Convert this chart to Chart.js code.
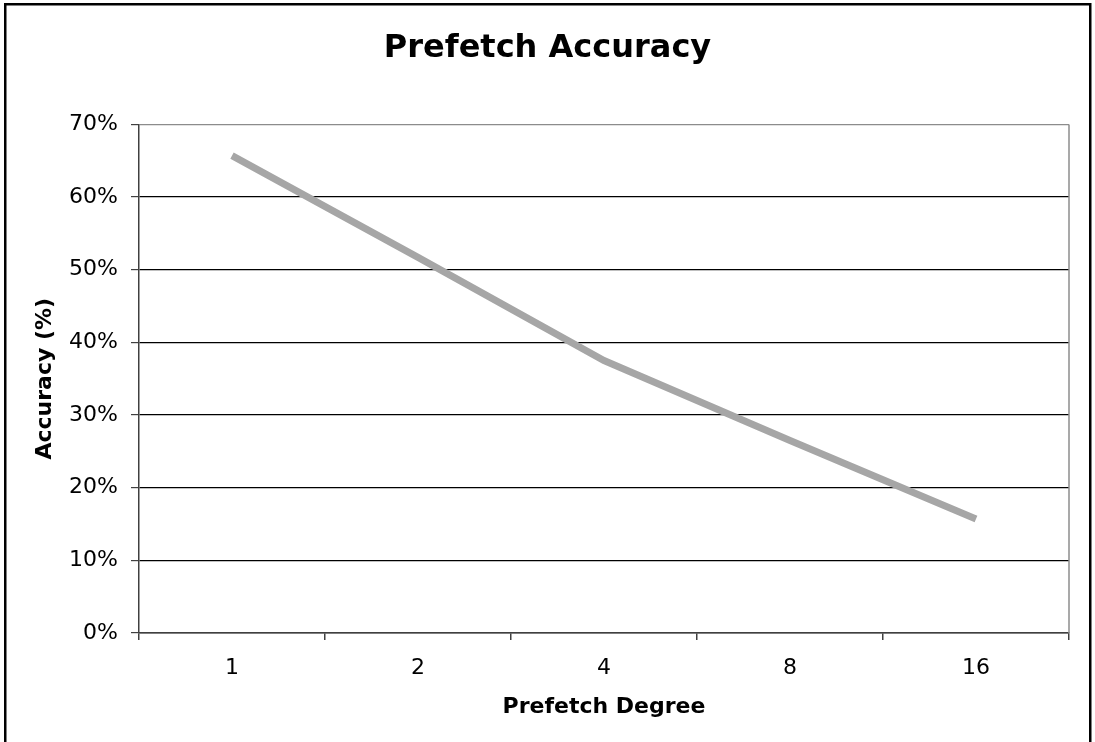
<!DOCTYPE html>
<html>
<head>
<meta charset="utf-8">
<script src="https://cdn.jsdelivr.net/npm/chart.js@4/dist/chart.umd.min.js"></script>
<style>
  html, body { margin: 0; padding: 0; background: #fff; overflow: hidden; }
  #wrap { width: 1095px; height: 742px; }
</style>
</head>
<body>
<div id="wrap"><canvas id="accChart" width="1095" height="742"></canvas></div>
<script>
const degrees = ['1', '2', '4', '8', '16'];
const accuracy = [65.7, 51.7, 37.5, 26.5, 15.7];
const yTicks = [0, 10, 20, 30, 40, 50, 60, 70];

const FONT = 'DejaVu Sans, Verdana, sans-serif';

// outer frame + plot area right edge
const framePlugin = {
  id: 'frame',
  afterDraw(chart) {
    const ctx = chart.ctx;
    const a = chart.chartArea;
    ctx.save();
    ctx.strokeStyle = '#8c8c8c';
    ctx.lineWidth = 1.5;
    ctx.beginPath();
    ctx.moveTo(a.right, a.top);
    ctx.lineTo(a.right, a.bottom);
    ctx.stroke();
    ctx.strokeStyle = '#000';
    ctx.lineWidth = 2.5;
    ctx.strokeRect(5.25, 4.25, 1085, 800);
    ctx.restore();
  }
};

new Chart(document.getElementById('accChart'), {
  type: 'line',
  data: {
    labels: degrees,
    datasets: [{
      label: 'Accuracy',
      data: accuracy,
      borderColor: '#a6a6a6',
      borderWidth: 7,
      borderCapStyle: 'butt',
      pointRadius: 0,
      tension: 0,
      fill: false
    }]
  },
  options: {
    responsive: false,
    animation: false,
    layout: { padding: 0 },
    plugins: {
      legend: { display: false },
      tooltip: { enabled: false },
      title: {
        display: true,
        text: 'Prefetch Accuracy',
        color: '#000',
        font: { family: FONT, size: 32, weight: 'bold' },
        padding: { top: 29, bottom: 57 }
      }
    },
    scales: {
      x: {
        offset: true,
        grid: {
          offset: true,
          drawOnChartArea: false,
          tickLength: 7,
          tickColor: '#404040',
          lineWidth: 1.5
        },
        border: { color: '#404040', width: 1.5 },
        ticks: {
          color: '#000',
          font: { family: FONT, size: 22 },
          padding: 15,
          maxRotation: 0
        },
        title: {
          display: true,
          text: 'Prefetch Degree',
          color: '#000',
          font: { family: FONT, size: 22, weight: 'bold' },
          padding: { top: 0, bottom: 22 }
        },
        afterFit(scale) { scale.height = 109; }
      },
      y: {
        min: 0,
        max: 70,
        afterBuildTicks(scale) {
          scale.ticks = yTicks.map(v => ({ value: v }));
        },
        grid: {
          color: ctx => (ctx.tick && ctx.tick.value === 70) ? '#8c8c8c' : '#000',
          lineWidth: 1.2,
          tickLength: 8,
          tickColor: '#404040'
        },
        border: { color: '#404040', width: 1.5 },
        ticks: {
          color: '#000',
          font: { family: FONT, size: 22 },
          padding: 13,
          callback: v => v + '%'
        },
        title: {
          display: true,
          text: 'Accuracy (%)',
          color: '#000',
          font: { family: FONT, size: 22, weight: 'bold' },
          padding: { top: 32, bottom: 0 }
        },
        afterFit(scale) { scale.width = 139; }
      },
      // empty right-hand spacer so the title stays centred on the page
      yRight: {
        position: 'right',
        grid: { display: false },
        border: { display: false },
        ticks: { display: false },
        afterFit(scale) { scale.width = 26; }
      }
    }
  },
  plugins: [framePlugin]
});
</script>
</body>
</html>
